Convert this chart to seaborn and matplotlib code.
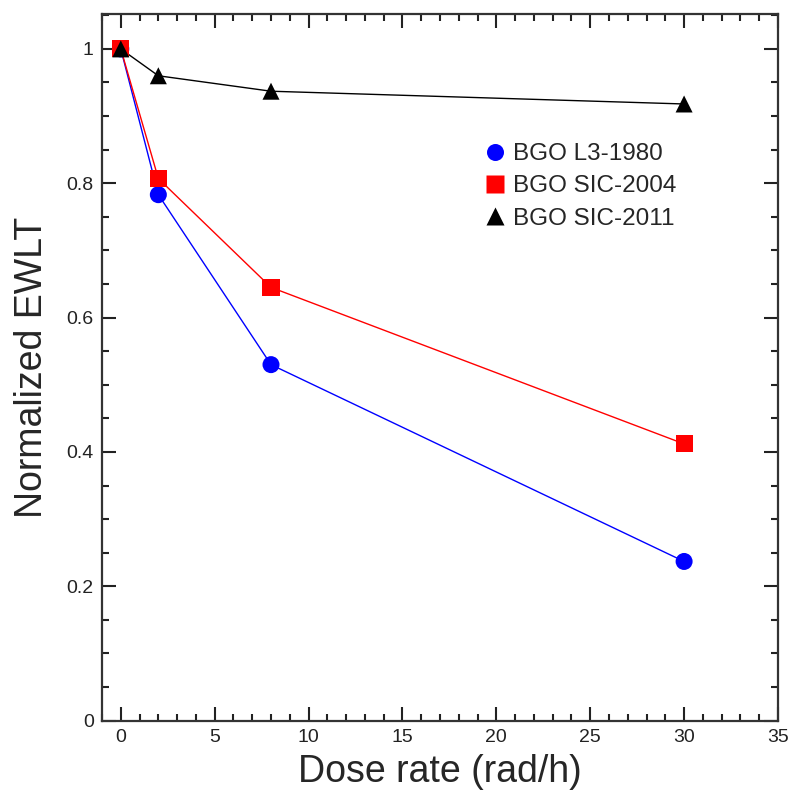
import matplotlib
matplotlib.use("Agg")
import matplotlib.pyplot as plt
import seaborn as sns
import pandas as pd
from matplotlib.ticker import MultipleLocator

# ---- data ----
dose = [0, 2, 8, 30]
l3_1980 = [1.0, 0.783, 0.530, 0.237]
sic_2004 = [1.0, 0.807, 0.645, 0.412]
sic_2011 = [1.0, 0.960, 0.937, 0.918]
err_l3 = [0.008, 0.008, 0.008, 0.008]
err_2004 = [0.008, 0.008, 0.008, 0.008]
err_2011 = [0.008, 0.008, 0.008, 0.008]
series_names = ["BGO L3-1980", "BGO SIC-2004", "BGO SIC-2011"]
colors = ["#0000FF", "#FF0000", "#000000"]
marker_shapes = ["o", "s", "^"]

rows = []
for name, vals, errs in zip(series_names, [l3_1980, sic_2004, sic_2011],
                            [err_l3, err_2004, err_2011]):
    for x, y, e in zip(dose, vals, errs):
        rows.append({"dose": x, "ewlt": y, "err": e, "sample": name})
df = pd.DataFrame(rows)

sns.set_style("white")
plt.rcParams["font.family"] = ["Liberation Sans", "DejaVu Sans"]

fig = plt.figure(figsize=(7.92, 7.98), dpi=100)
ax = fig.add_axes([0.1288, 0.0969, 0.8535, 0.8856])

palette = dict(zip(series_names, colors))
markers = dict(zip(series_names, marker_shapes))

# error bars
for name in series_names:
    sub = df[df["sample"] == name]
    ax.errorbar(sub["dose"], sub["ewlt"], yerr=sub["err"], fmt="none",
                ecolor="black", elinewidth=1, capsize=0, zorder=2)

sns.lineplot(data=df, x="dose", y="ewlt", hue="sample", palette=palette,
             linewidth=1.0, legend=False, ax=ax, zorder=3)
sns.scatterplot(data=df, x="dose", y="ewlt", hue="sample", style="sample",
                palette=palette, markers=markers, s=150, edgecolor="none",
                ax=ax, zorder=4)

ax.set_xlim(-1, 35)
ax.set_ylim(0, 1.052)
ax.xaxis.set_major_locator(MultipleLocator(5))
ax.xaxis.set_minor_locator(MultipleLocator(1))
ax.yaxis.set_major_locator(MultipleLocator(0.2))
ax.yaxis.set_minor_locator(MultipleLocator(0.05))
ax.set_yticks([0, 0.2, 0.4, 0.6, 0.8, 1.0])
ax.set_yticklabels(["0", "0.2", "0.4", "0.6", "0.8", "1"])

ax.tick_params(which="both", direction="in", top=True, right=True,
               bottom=True, left=True,
               labelsize=14, colors="#222222", width=1.5)
ax.tick_params(which="major", length=10, pad=6)
ax.tick_params(which="minor", length=5)
for s in ax.spines.values():
    s.set_linewidth(1.6)
    s.set_color("#333333")

ax.set_xlabel("Dose rate (rad/h)", fontsize=27, labelpad=6)
ax.set_ylabel("Normalized EWLT", fontsize=27, labelpad=12)

leg = ax.legend(loc="upper left", bbox_to_anchor=(0.531, 0.831), frameon=False,
                fontsize=17.5, handletextpad=-0.25, labelspacing=0.42,
                markerscale=1.0, borderaxespad=0)

fig.savefig("out.png", dpi=100)
